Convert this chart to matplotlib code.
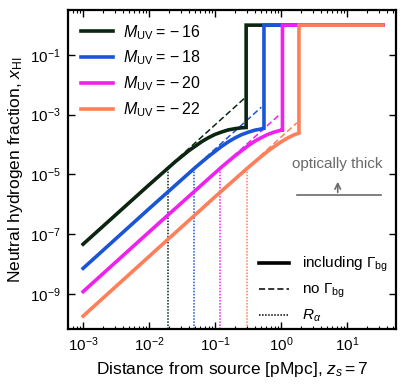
import matplotlib
matplotlib.use('Agg')
import matplotlib.pyplot as plt
import numpy as np
from matplotlib import ticker
from matplotlib.lines import Line2D

plt.rcParams['font.family'] = ['Liberation Sans', 'DejaVu Sans']
plt.rcParams['mathtext.fontset'] = 'custom'
plt.rcParams['mathtext.rm'] = 'Liberation Sans'
plt.rcParams['mathtext.it'] = 'Liberation Sans:italic'
plt.rcParams['mathtext.bf'] = 'Liberation Sans:bold'

# magnitudes and colours
muv = [-16, -18, -20, -22]
colors = ['#0a2510', '#1a55d8', '#f020f0', '#ff7f5a']

# solid curves (including background) as log10 values
solid_logr = [
    [-3.0, -2.0, -1.6, -1.4, -1.2, -1.1, -1.0, -0.9, -0.8, -0.7, -0.6, -0.53],
    [-3.0, -2.0, -1.3, -1.1, -0.9, -0.8, -0.7, -0.6, -0.5, -0.4, -0.3, -0.26],
    [-3.0, -2.0, -0.9, -0.7, -0.5, -0.4, -0.3, -0.2, -0.1, 0.0, 0.02],
    [-3.0, -1.0, -0.5, -0.3, -0.2, -0.1, 0.0, 0.1, 0.2, 0.27],
]
solid_logx = [
    [-7.34, -5.35, -4.57, -4.21, -3.90, -3.77, -3.66, -3.58, -3.51, -3.47, -3.44, -3.43],
    [-8.15, -6.15, -4.77, -4.40, -4.06, -3.91, -3.78, -3.67, -3.59, -3.52, -3.48, -3.46],
    [-8.93, -6.93, -4.75, -4.38, -4.04, -3.89, -3.77, -3.66, -3.58, -3.52, -3.52],
    [-9.75, -5.75, -4.77, -4.40, -4.22, -4.06, -3.91, -3.78, -3.67, -3.62],
]
# optically thick part, x_HI = 1 out to the edge of the plot
thick_end_logr = 1.54

# dashed curves (no background), start and end
dashed_logr = [[-3.0, -0.55], [-3.0, -0.30], [-3.0, -0.03], [-3.0, 0.24]]
dashed_logx = [[-7.34, -2.44], [-8.15, -2.75], [-8.93, -3.01], [-9.75, -3.27]]

# R_alpha positions and the curve value there
r_alpha = [0.019, 0.048, 0.119, 0.30]
x_at_ralpha = [1.4e-5, 1.4e-5, 1.4e-5, 1.4e-5]

fig = plt.figure(figsize=(4.07, 3.87), dpi=100)
ax = fig.add_axes([0.167, 0.150, 0.806, 0.824])
ax.set_xscale('log')
ax.set_yscale('log')
ax.set_xlim(5.9e-4, 55)
ax.set_ylim(6.6e-11, 3.2)

for i in range(4):
    r = 10 ** np.array(solid_logr[i])
    x = 10 ** np.array(solid_logx[i])
    r = np.append(r, [r[-1], 10 ** thick_end_logr])
    x = np.append(x, [1.0, 1.0])
    ax.plot(10 ** np.array(dashed_logr[i]), 10 ** np.array(dashed_logx[i]),
            color=colors[i], lw=1.1, ls=(0, (4, 2)), zorder=2)
    ax.plot([r_alpha[i], r_alpha[i]], [6.6e-11, x_at_ralpha[i]],
            color=colors[i], lw=1.1, ls=(0, (1, 1)), zorder=1)
    ax.plot(r, x, color=colors[i], lw=2.6, zorder=3 + i,
            label=r'$M_{\rm UV} = {} - %d$' % abs(muv[i]), solid_joinstyle='miter')

# optically thick marker
ax.plot([1.77, 32.5], [2.0e-6, 2.0e-6], color='#6a6a6a', lw=1.2)
ax.annotate('', xy=(7.2, 7.0e-6), xytext=(7.2, 2.0e-6),
            arrowprops=dict(arrowstyle='->', color='#6a6a6a', lw=1.2))
ax.text(7.2, 2.2e-5, 'optically thick', color='#6a6a6a', fontsize=11,
        ha='center', va='center')

leg1 = ax.legend(loc='upper left', frameon=False, fontsize=11.5,
                 handlelength=2.0, handletextpad=0.65, labelspacing=0.45,
                 borderaxespad=0.4, bbox_to_anchor=(0.0, 1.0))
ax.add_artist(leg1)

handles = [Line2D([], [], color='k', lw=2.6),
           Line2D([], [], color='k', lw=1.1, ls=(0, (4, 2))),
           Line2D([], [], color='k', lw=1.1, ls=(0, (1, 1)))]
labels = [r'including $\Gamma_{\rm bg}$', r'no $\Gamma_{\rm bg}$', r'$R_\alpha$']
ax.legend(handles, labels, loc='lower right', frameon=False, fontsize=11,
          handlelength=2.0, handletextpad=0.85, labelspacing=0.5,
          borderaxespad=0.0, bbox_to_anchor=(0.995, -0.005))

ax.yaxis.set_major_locator(ticker.FixedLocator([1e-9, 1e-7, 1e-5, 1e-3, 1e-1]))
ax.yaxis.set_minor_locator(ticker.NullLocator())
ax.xaxis.set_major_locator(ticker.LogLocator(base=10, numticks=10))
ax.xaxis.set_minor_locator(ticker.LogLocator(base=10, subs=np.arange(2, 10), numticks=20))
ax.tick_params(which='both', direction='in', top=True, right=True, labelsize=11)
ax.tick_params(which='major', length=5, width=1.0, pad=5)
ax.tick_params(which='minor', length=2.5, width=0.8)
for s in ax.spines.values():
    s.set_linewidth(1.6)

ax.set_xlabel(r'Distance from source [pMpc], $z_s = 7$', fontsize=12.5)
ax.set_ylabel(r'Neutral hydrogen fraction, $x_{\rm HI}$', fontsize=12.5)

fig.savefig('out.png', dpi=100)
